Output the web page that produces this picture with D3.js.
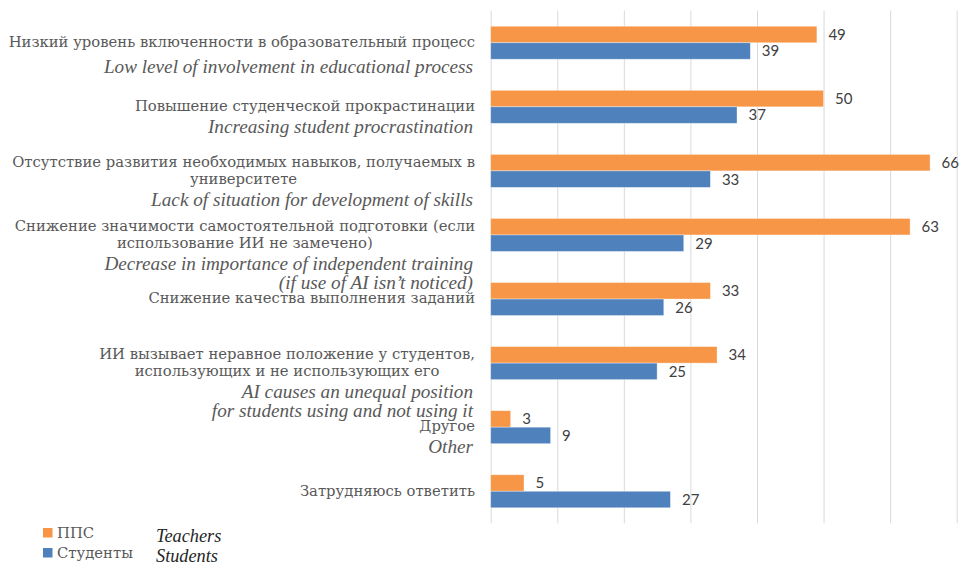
<!DOCTYPE html>
<html>
<head>
<meta charset="utf-8">
<script src="https://cdn.jsdelivr.net/npm/d3@7"></script>
<style>
  html, body { margin: 0; padding: 0; background: #fff; }
  svg { display: block; }
</style>
</head>
<body>
<svg id="chart" width="960" height="566"></svg>
<script>
// Categories (Russian wording, split into display lines) and English glosses
const categoriesRu = [
  ["Низкий уровень включенности в образовательный процесс"],
  ["Повышение студенческой прокрастинации"],
  ["Отсутствие развития необходимых навыков, получаемых в", "университете"],
  ["Снижение значимости самостоятельной подготовки (если", "использование ИИ не замечено)"],
  ["Снижение качества выполнения заданий"],
  ["ИИ вызывает неравное положение у студентов,", "использующих и не использующих его"],
  ["Другое"],
  ["Затрудняюсь ответить"]
];
const categoriesEn = [
  ["Low level of involvement in educational process"],
  ["Increasing student procrastination"],
  ["Lack of situation for development of skills"],
  ["Decrease in importance of independent training", "(if use of AI isn’t noticed)"],
  [],
  ["AI causes an unequal position", "for students using and not using it"],
  ["Other"],
  []
];

// Series values (percent)
const teachers = [49, 50, 66, 63, 33, 34, 3, 5];   // ППС
const students = [39, 37, 33, 29, 26, 25, 9, 27];  // Студенты

const seriesNames = ["ППС", "Студенты"];
const seriesNamesEn = ["Teachers", "Students"];
const gridTicks = [0, 10, 20, 30, 40, 50, 60, 70];

// ---- layout ----
const plot = { left: 490.7, right: 956.7, top: 10.7, bottom: 523.3 };
const colors = ["#F79646", "#4F81BD"];
const svg = d3.select("#chart");

const x = d3.scaleLinear().domain([0, 70]).range([plot.left, plot.right]);
const idx = d3.range(categoriesRu.length);
const y = d3.scaleBand().domain(idx).range([plot.top, plot.bottom])
  .paddingInner(0.485).paddingOuter(0.2425);
const ySub = d3.scaleBand().domain([0, 1]).range([0, y.bandwidth()]);

// vertical gridlines
svg.append("g")
  .attr("transform", `translate(0,${plot.top})`)
  .call(d3.axisBottom(x).tickValues(gridTicks).tickSize(plot.bottom - plot.top).tickFormat(""))
  .call(g => g.select(".domain").remove())
  .call(g => g.selectAll(".tick line").attr("stroke", "#d9d9d9").attr("stroke-width", 1));

// bars
const series = [teachers, students];
series.forEach((vals, s) => {
  const g = svg.append("g");
  g.selectAll("rect").data(vals).join("rect")
    .attr("x", x(0))
    .attr("y", (d, i) => y(i) + ySub(s))
    .attr("width", d => x(d) - x(0))
    .attr("height", ySub.bandwidth())
    .attr("fill", colors[s])
    .attr("stroke", "#ffffff")
    .attr("stroke-opacity", 0.45)
    .attr("stroke-width", 0.8);
  g.selectAll("text").data(vals).join("text")
    .attr("x", d => x(d) + 11.5)
    .attr("y", (d, i) => y(i) + ySub(s) + ySub.bandwidth() / 2)
    .attr("dy", "0.36em")
    .attr("font-family", "Lato, 'Open Sans', sans-serif")
    .attr("font-size", 15)
    .attr("fill", "#404040")
    .text(d => d);
});

// category labels
const ruFont = "'DejaVu Serif', 'Liberation Serif', serif";
const enFont = "'Liberation Serif', 'DejaVu Serif', serif";
const ruSize = 14.8, enSize = 19.2;
const ruRight = 475, enRight = 473;
const ruLine = 17, enLine = 19, enGap = 22;
const enShift = [4, 0, 0, 0, 0, 0, 0, 0];   // extra drop for the first gloss
const labels = svg.append("g");
idx.forEach(i => {
  const cy = y(i) + y.bandwidth() / 2;
  const ru = categoriesRu[i];
  const firstBase = cy + 4.3 - (ru.length - 1) * ruLine / 2;
  const grp = labels.append("g");
  // first line right-aligned, continuation lines centred under it
  const first = grp.append("text")
    .attr("x", ruRight).attr("y", firstBase)
    .attr("text-anchor", "end")
    .attr("font-family", ruFont).attr("font-size", ruSize)
    .attr("fill", "#595959")
    .text(ru[0]);
  const w = first.node().getComputedTextLength();
  ru.slice(1).forEach((line, k) => {
    grp.append("text")
      .attr("x", ruRight - w / 2).attr("y", firstBase + (k + 1) * ruLine)
      .attr("text-anchor", "middle")
      .attr("font-family", ruFont).attr("font-size", ruSize)
      .attr("fill", "#595959")
      .text(line);
  });
  const lastBase = firstBase + (ru.length - 1) * ruLine;
  categoriesEn[i].forEach((line, k) => {
    grp.append("text")
      .attr("x", enRight).attr("y", lastBase + enGap + enShift[i] + k * enLine)
      .attr("text-anchor", "end")
      .attr("font-family", enFont).attr("font-style", "italic").attr("font-size", enSize)
      .attr("fill", "#595959")
      .text(line);
  });
});

// legend
const legend = svg.append("g");
seriesNames.forEach((name, s) => {
  const ly = 538 + s * 20;
  legend.append("rect")
    .attr("x", 43).attr("y", ly - 10).attr("width", 9.5).attr("height", 9.5)
    .attr("fill", colors[s]);
  legend.append("text")
    .attr("x", 57).attr("y", ly)
    .attr("font-family", ruFont).attr("font-size", ruSize)
    .attr("fill", "#595959")
    .text(name);
  legend.append("text")
    .attr("x", 156).attr("y", ly + 3.5)
    .attr("font-family", enFont).attr("font-style", "italic").attr("font-size", 18.3)
    .attr("fill", "#262626")
    .text(seriesNamesEn[s]);
});
</script>
</body>
</html>
